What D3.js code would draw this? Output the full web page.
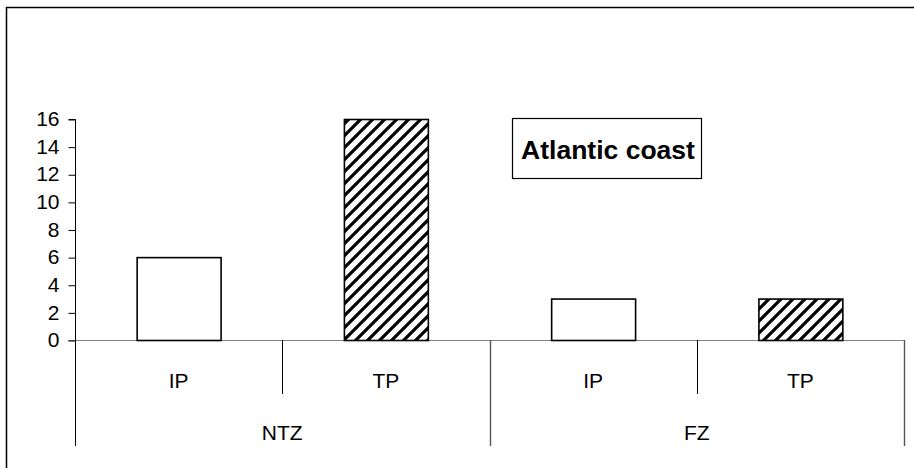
<!DOCTYPE html>
<html><head><meta charset="utf-8">
<script src="https://cdn.jsdelivr.net/npm/d3@7/dist/d3.min.js"></script>
<style>html,body{margin:0;padding:0;background:#fff;}svg{display:block;}</style>
</head><body>
<svg id="chart" width="914" height="468"></svg>
<script>
const groups = ["NTZ", "FZ"];
const subcats = ["IP", "TP"];
const valuesIP = [6, 3];
const valuesTP = [16, 3];
const yTicks = [0, 2, 4, 6, 8, 10, 12, 14, 16];
const title = "Atlantic coast";

const svg = d3.select("#chart");
const font = "'Liberation Sans', Arial, sans-serif";

// hatch pattern
const defs = svg.append("defs");
const pat = defs.append("pattern").attr("id", "hatch").attr("patternUnits", "userSpaceOnUse")
  .attr("width", 12).attr("height", 12);
pat.append("rect").attr("width", 12).attr("height", 12).attr("fill", "#fff");
pat.append("path").attr("d", "M-3,3 L3,-3 M0,12 L12,0 M9,15 L15,9")
  .attr("stroke", "#000").attr("stroke-width", 3.2);

// outer frame
svg.append("rect").attr("x", 6.5).attr("y", 7.5).attr("width", 1000).attr("height", 1000)
  .attr("fill", "none").attr("stroke", "#000").attr("stroke-width", 1.5);

const left = 75, right = 904, y0 = 340, yTop = 119;
const rows = [];
groups.forEach((g, gi) => {
  rows.push({g, s: subcats[0], v: valuesIP[gi], key: g + "-" + subcats[0], hatch: false});
  rows.push({g, s: subcats[1], v: valuesTP[gi], key: g + "-" + subcats[1], hatch: true});
});

const x = d3.scaleBand().domain(rows.map(d => d.key)).range([left, right])
  .paddingInner(0.595).paddingOuter(0.2975);
const xg = d3.scaleBand().domain(groups).range([left, right]);
const y = d3.scaleLinear().domain([0, 16]).range([y0, yTop]);

// baseline
svg.append("line").attr("x1", left - 7).attr("x2", right).attr("y1", y0 + 0.5).attr("y2", y0 + 0.5)
  .attr("stroke", "#808080").attr("stroke-width", 1.2);

// y axis
const yAxis = d3.axisLeft(y).tickValues(yTicks).tickSize(7).tickPadding(9);
const ga = svg.append("g").attr("transform", `translate(${left + 0.5},0)`).call(yAxis);
ga.select(".domain").attr("stroke", "#000").attr("d", `M-7,${y(16)+0.5}H0V${y0}`);
ga.selectAll(".tick line").attr("stroke", "#000").attr("transform", "translate(0,0.5)");
ga.selectAll(".tick text").attr("font-family", font).attr("font-size", 21).attr("fill", "#000");

// bars
svg.selectAll(".bar").data(rows).join("rect")
  .attr("x", d => x(d.key) + 0.5)
  .attr("y", d => y(d.v) + 0.5)
  .attr("width", x.bandwidth())
  .attr("height", d => y0 - y(d.v))
  .attr("fill", d => d.hatch ? "url(#hatch)" : "#fff")
  .attr("stroke", "#000").attr("stroke-width", 1.6);

// category dividers
const step = x.step();
rows.forEach((d, i) => {
  const xr = left + step * (i + 1);
  const isGroupEnd = i % 2 === 1;
  svg.append("line").attr("x1", Math.round(xr) + 0.5).attr("x2", Math.round(xr) + 0.5)
    .attr("y1", y0).attr("y2", isGroupEnd ? 446 : 394)
    .attr("stroke", isGroupEnd ? "#555" : "#000").attr("stroke-width", isGroupEnd ? 1.4 : 1);
});
svg.append("line").attr("x1", left + 0.5).attr("x2", left + 0.5).attr("y1", y0).attr("y2", 446)
  .attr("stroke", "#000").attr("stroke-width", 1);

// sub category labels
svg.selectAll(".sub").data(rows).join("text")
  .attr("x", d => x(d.key) + x.bandwidth() / 2)
  .attr("y", 388)
  .attr("text-anchor", "middle").attr("font-family", font).attr("font-size", 21)
  .text(d => d.s);

// group labels
svg.selectAll(".grp").data(groups).join("text")
  .attr("x", d => xg(d) + xg.bandwidth() / 2)
  .attr("y", 440)
  .attr("text-anchor", "middle").attr("font-family", font).attr("font-size", 21)
  .text(d => d);

// title box
svg.append("rect").attr("x", 512.5).attr("y", 118.5).attr("width", 189).attr("height", 60)
  .attr("fill", "#fff").attr("stroke", "#000").attr("stroke-width", 1.2);
svg.append("text").attr("x", 608).attr("y", 159).attr("text-anchor", "middle")
  .attr("font-family", font).attr("font-weight", "bold").attr("font-size", 26.5)
  .text(title);
</script>
</body></html>
